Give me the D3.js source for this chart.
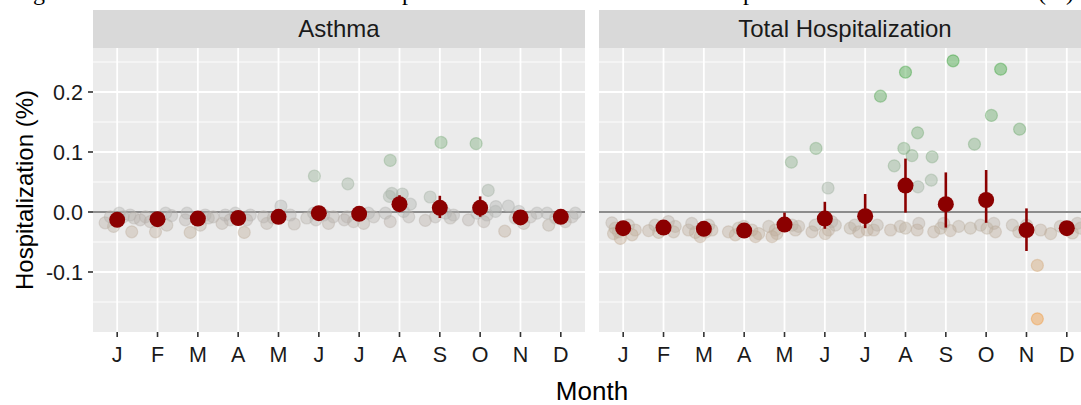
<!DOCTYPE html>
<html>
<head>
<meta charset="utf-8">
<script src="https://cdn.jsdelivr.net/npm/d3@7"></script>
<style>
body{margin:0;background:#fff;overflow:hidden;}
svg text{font-family:"Liberation Sans",Arial,sans-serif;}
</style>
</head>
<body>
<svg id="chart" width="1081" height="405"></svg>
<script>
// data
var months = ["J","F","M","A","M","J","J","A","S","O","N","D"];
var monthIdx = d3.range(12);
var yTicks = [-0.1, 0, 0.1, 0.2];
var yTickLabels = ["-0.1", "0.0", "0.1", "0.2"];
var yMinor = [-0.15, -0.05, 0.05, 0.15, 0.25];

var asthmaMean = [-0.013,-0.012,-0.011,-0.010,-0.008,-0.002,-0.003,0.013,0.007,0.007,-0.009,-0.008];
var asthmaLo   = [-0.017,-0.016,-0.015,-0.014,-0.013,-0.008,-0.009,0.000,-0.010,-0.008,-0.014,-0.012];
var asthmaHi   = [-0.009,-0.008,-0.007,-0.006,-0.003,0.004,0.003,0.028,0.027,0.026,-0.004,-0.004];

var totalMean = [-0.027,-0.026,-0.028,-0.031,-0.021,-0.011,-0.007,0.044,0.013,0.020,-0.030,-0.027];
var totalLo   = [-0.032,-0.031,-0.033,-0.036,-0.032,-0.028,-0.027,-0.001,-0.026,-0.018,-0.065,-0.032];
var totalHi   = [-0.022,-0.021,-0.023,-0.026,-0.001,0.017,0.030,0.089,0.066,0.070,0.006,-0.022];

// [month, jitter (fraction of a month step), value]
var asthmaPts = [
  [0,-0.30,-0.018],[0,-0.09,-0.024],[0,0.32,-0.005],[0,0.36,-0.033],[0,0.15,-0.008],[0,-0.17,-0.008],[0,0.05,-0.002],[0,0.42,-0.010],
  [1,-0.30,-0.008],[1,-0.05,-0.033],[1,0.20,-0.002],[1,0.23,-0.022],[1,-0.43,-0.013],[1,-0.18,-0.016],[1,0.35,-0.006],
  [2,-0.19,-0.034],[2,-0.31,-0.013],[2,-0.27,-0.002],[2,0.18,-0.005],[2,0.06,-0.022],[2,0.26,-0.010],[2,0.38,-0.008],
  [3,-0.40,-0.019],[3,-0.32,-0.005],[3,0.15,-0.034],[3,0.30,-0.005],[3,-0.20,-0.013],[3,0.21,-0.013],[3,-0.07,-0.002],
  [4,0.06,0.010],[4,-0.29,-0.019],[4,0.39,-0.020],[4,-0.37,-0.008],[4,0.29,-0.005],[4,-0.13,-0.010],
  [5,-0.11,0.060],[5,0.24,-0.019],[5,0.12,-0.005],[5,-0.13,-0.002],[5,0.36,-0.008],[5,-0.30,-0.010],[5,-0.07,-0.013],
  [6,-0.28,0.047],[6,-0.30,-0.008],[6,-0.14,-0.016],[6,0.11,-0.019],[6,0.36,-0.008],[6,0.23,-0.002],[6,-0.37,-0.013],
  [7,-0.23,0.086],[7,-0.19,0.031],[7,-0.25,0.026],[7,0.07,0.030],[7,0.27,0.013],[7,-0.23,-0.016],[7,0.23,-0.008],[7,0.10,0.001],[7,-0.35,-0.002],
  [8,0.03,0.116],[8,-0.24,0.025],[8,-0.36,-0.014],[8,0.26,-0.010],[8,0.34,-0.005],[8,0.14,-0.002],[8,-0.11,-0.008],
  [9,-0.10,0.114],[9,0.20,0.036],[9,0.39,0.009],[9,-0.29,-0.013],[9,0.09,-0.016],[9,0.17,-0.005],[9,-0.08,-0.002],[9,0.38,0.001],
  [10,-0.39,-0.032],[10,-0.30,0.010],[10,0.08,-0.019],[10,0.25,-0.008],[10,0.41,-0.002],[10,-0.04,0.001],[10,-0.13,-0.010],
  [11,-0.30,-0.022],[11,-0.34,-0.002],[11,0.28,-0.008],[11,0.36,-0.002],[11,-0.13,-0.010],[11,0.11,-0.016]
];
var totalPts = [
  [0,-0.28,-0.018],[0,-0.20,-0.027],[0,-0.07,-0.044],[0,-0.24,-0.036],[0,0.30,-0.030],[0,0.13,-0.022],[0,-0.12,-0.033],[0,0.22,-0.038],
  [1,-0.37,-0.031],[1,-0.12,-0.034],[1,0.12,-0.016],[1,0.29,-0.024],[1,0.25,-0.033],[1,-0.21,-0.022],[1,0.00,-0.027],
  [2,-0.38,-0.030],[2,-0.30,-0.019],[2,-0.09,-0.041],[2,0.20,-0.030],[2,0.12,-0.022],[2,-0.21,-0.034],[2,0.05,-0.033],
  [3,-0.39,-0.033],[3,-0.22,-0.038],[3,0.19,-0.030],[3,0.36,-0.036],[3,-0.01,-0.024],[3,-0.14,-0.027],[3,0.28,-0.041],
  [4,-0.39,-0.024],[4,-0.31,-0.041],[4,-0.19,-0.036],[4,0.27,-0.030],[4,0.19,-0.022],[4,0.35,-0.024],[4,-0.23,-0.030],[4,0.17,0.083],
  [5,-0.22,0.106],[5,0.08,0.040],[5,-0.32,-0.033],[5,-0.24,-0.022],[5,0.09,-0.030],[5,0.26,-0.022],[5,0.01,-0.036],[5,0.17,-0.016],
  [6,0.38,0.193],[6,-0.37,-0.027],[6,-0.16,-0.033],[6,0.21,-0.030],[6,0.30,-0.022],[6,-0.26,-0.022],[6,0.05,-0.030],
  [7,0.00,0.233],[7,0.30,0.132],[7,-0.04,0.106],[7,0.16,0.094],[7,-0.28,0.077],[7,0.31,0.042],
  [7,-0.37,-0.030],[7,-0.13,-0.024],[7,0.00,-0.027],[7,0.33,-0.019],[7,0.29,-0.030],
  [8,0.18,0.252],[8,-0.34,0.092],[8,-0.36,0.053],[8,-0.30,-0.033],[8,-0.05,-0.019],[8,0.11,-0.031],[8,0.32,-0.024],[8,-0.13,-0.027],
  [9,0.36,0.238],[9,0.13,0.161],[9,-0.29,0.113],[9,-0.39,-0.027],[9,-0.14,-0.022],[9,0.19,-0.019],[9,0.23,-0.033],[9,0.02,-0.027],
  [10,-0.17,0.138],[10,0.27,-0.089],[10,0.27,-0.178],[10,-0.35,-0.022],[10,-0.19,-0.033],[10,0.35,-0.030],[10,0.00,-0.022],
  [11,-0.40,-0.036],[11,0.26,-0.019],[11,-0.16,-0.024],[11,0.14,-0.035],[11,0.34,-0.027]
];

var panels = [
  {name: "Asthma", pts: asthmaPts, mean: asthmaMean, lo: asthmaLo, hi: asthmaHi, x0: 93},
  {name: "Total Hospitalization", pts: totalPts, mean: totalMean, lo: totalLo, hi: totalHi, x0: 599}
];

var svg = d3.select("#chart");
var panelW = 492, panelTop = 48, panelBottom = 332;

var y = d3.scaleLinear().domain([-0.2, 0.27333]).range([panelBottom, panelTop]);
var colour = d3.scaleLinear().domain([-0.18, 0, 0.25]).range(["#f0902a", "#b3b3b3", "#2f9e2f"]);

// cut-off caption line at the very top
var capFont = '"Liberation Serif","Times New Roman",serif';
[["g", 33], ["p", 402], ["p", 743], ["(%)", 1038]].forEach(function(c){
  svg.append("text").attr("x", c[1]).attr("y", 0)
    .style("font-family", capFont).style("font-size", "24px").attr("fill", "#000").text(c[0]);
});

panels.forEach(function(p){
  var x = d3.scalePoint().domain(monthIdx).range([p.x0, p.x0 + panelW]).padding(0.6);
  var step = x.step();
  var g = svg.append("g");

  g.append("rect").attr("x", p.x0).attr("y", panelTop).attr("width", panelW).attr("height", panelBottom - panelTop).attr("fill", "#ebebeb");

  g.selectAll(".minor").data(yMinor).enter().append("line")
    .attr("x1", p.x0).attr("x2", p.x0 + panelW)
    .attr("y1", function(d){ return y(d); }).attr("y2", function(d){ return y(d); })
    .attr("stroke", "#fff").attr("stroke-width", 0.9);
  g.selectAll(".major").data(yTicks).enter().append("line")
    .attr("x1", p.x0).attr("x2", p.x0 + panelW)
    .attr("y1", function(d){ return y(d); }).attr("y2", function(d){ return y(d); })
    .attr("stroke", "#fff").attr("stroke-width", 1.8);
  g.selectAll(".vgrid").data(monthIdx).enter().append("line")
    .attr("x1", function(d){ return x(d); }).attr("x2", function(d){ return x(d); })
    .attr("y1", panelTop).attr("y2", panelBottom)
    .attr("stroke", "#fff").attr("stroke-width", 1.8);

  // strip
  g.append("rect").attr("x", p.x0).attr("y", 10).attr("width", panelW).attr("height", panelTop - 10).attr("fill", "#d9d9d9");
  g.append("text").attr("x", p.x0 + panelW / 2).attr("y", 37).attr("text-anchor", "middle")
    .style("font-size", "24px").attr("fill", "#1a1a1a").text(p.name);

  // zero line
  g.append("line").attr("x1", p.x0).attr("x2", p.x0 + panelW).attr("y1", y(0)).attr("y2", y(0))
    .attr("stroke", "#8c8c8c").attr("stroke-width", 2.2);

  // jittered points
  g.selectAll(".pt").data(p.pts).enter().append("circle")
    .attr("cx", function(d){ return x(d[0]) + d[1] * step; })
    .attr("cy", function(d){ return y(d[2]); })
    .attr("r", 6)
    .attr("fill", function(d){ return colour(d[2]); })
    .attr("fill-opacity", 0.4)
    .attr("stroke", function(d){ return colour(d[2]); })
    .attr("stroke-opacity", 0.4)
    .attr("stroke-width", 1.2);

  // error bars and means
  g.selectAll(".err").data(monthIdx).enter().append("line")
    .attr("x1", function(d){ return x(d); }).attr("x2", function(d){ return x(d); })
    .attr("y1", function(d){ return y(p.lo[d]); }).attr("y2", function(d){ return y(p.hi[d]); })
    .attr("stroke", "#8b0000").attr("stroke-width", 2.6);
  g.selectAll(".mean").data(monthIdx).enter().append("circle")
    .attr("cx", function(d){ return x(d); }).attr("cy", function(d){ return y(p.mean[d]); })
    .attr("r", 8).attr("fill", "#8b0000");

  // x axis
  g.selectAll(".xt").data(monthIdx).enter().append("line")
    .attr("x1", function(d){ return x(d); }).attr("x2", function(d){ return x(d); })
    .attr("y1", panelBottom).attr("y2", panelBottom + 5)
    .attr("stroke", "#333").attr("stroke-width", 1.6);
  g.selectAll(".xl").data(monthIdx).enter().append("text")
    .attr("x", function(d){ return x(d); }).attr("y", 362).attr("text-anchor", "middle")
    .style("font-size", "21.5px").attr("fill", "#1a1a1a")
    .text(function(d){ return months[d]; });
});

// y axis on the left panel
svg.selectAll(".yt").data(yTicks).enter().append("line")
  .attr("x1", 88).attr("x2", 93)
  .attr("y1", function(d){ return y(d); }).attr("y2", function(d){ return y(d); })
  .attr("stroke", "#333").attr("stroke-width", 1.6);
svg.selectAll(".yl").data(yTicks).enter().append("text")
  .attr("x", 83).attr("y", function(d){ return y(d) + 7.8; }).attr("text-anchor", "end")
  .style("font-size", "21.5px").attr("fill", "#1a1a1a")
  .text(function(d, i){ return yTickLabels[i]; });

// axis titles
svg.append("text").attr("x", 592).attr("y", 400).attr("text-anchor", "middle")
  .style("font-size", "26px").attr("fill", "#000").text("Month");
svg.append("text").attr("transform", "translate(33," + ((panelTop + panelBottom) / 2) + ") rotate(-90)")
  .attr("text-anchor", "middle").style("font-size", "24px").attr("fill", "#000")
  .text("Hospitalization (%)");
</script>
</body>
</html>
